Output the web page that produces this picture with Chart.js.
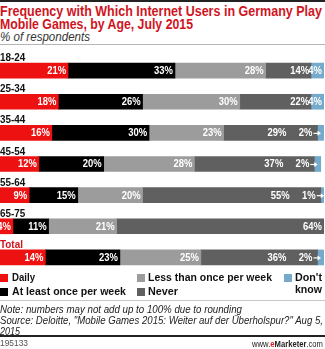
<!DOCTYPE html>
<html>
<head>
<meta charset="utf-8">
<script src="https://cdn.jsdelivr.net/npm/chart.js@4.4.1/dist/chart.umd.min.js"></script>
<style>
  html,body{margin:0;padding:0;background:#fff;}
  body{width:325px;height:349px;position:relative;overflow:hidden;font-family:"Liberation Sans",Arial,sans-serif;}
  .t{position:absolute;white-space:nowrap;transform-origin:0 0;line-height:1;}
  .rule{position:absolute;left:0;width:325px;}
  .sq{position:absolute;width:8px;height:8px;}
  #wrap{position:absolute;left:0;top:40px;width:325px;height:240px;}
</style>
</head>
<body>
<div class="rule" style="top:0;height:2px;background:#222;"></div>
<div class="t" data-w="322" style="left:0;top:4px;font-size:14px;font-weight:bold;color:#d0141e;">Frequency with Which Internet Users in Germany Play</div>
<div class="t" data-w="193" style="left:0;top:17px;font-size:14px;font-weight:bold;color:#d0141e;">Mobile Games, by Age, July 2015</div>
<div class="t" data-w="90" style="left:0;top:31px;font-size:12px;font-style:italic;color:#333;">% of respondents</div>
<div class="rule" style="top:44px;height:1px;background:#b5b5b5;"></div>

<div id="wrap"><canvas id="c"></canvas></div>

<div class="sq" style="left:0;top:274px;background:#ee1111;"></div>
<div class="t" data-w="23" style="left:12px;top:272px;font-size:11px;font-weight:bold;color:#111;">Daily</div>
<div class="sq" style="left:0;top:288px;background:#000;"></div>
<div class="t" data-w="114" style="left:12px;top:286px;font-size:11px;font-weight:bold;color:#111;">At least once per week</div>
<div class="sq" style="left:137px;top:274px;background:#9c9c9c;"></div>
<div class="t" data-w="124" style="left:148px;top:272px;font-size:11px;font-weight:bold;color:#111;">Less than once per week</div>
<div class="sq" style="left:137px;top:288px;background:#606060;"></div>
<div class="t" data-w="30" style="left:148px;top:286px;font-size:11px;font-weight:bold;color:#111;">Never</div>
<div class="sq" style="left:284px;top:274px;background:#74aacb;"></div>
<div class="t" data-w="27" style="left:295px;top:272px;font-size:11px;font-weight:bold;color:#111;">Don't</div>
<div class="t" data-w="27" style="left:295px;top:284px;font-size:11px;font-weight:bold;color:#111;">know</div>

<div class="rule" style="top:300px;height:1px;background:#c8c8c8;"></div>
<div class="t" data-w="242" style="left:0;top:304px;font-size:11px;font-style:italic;color:#222;">Note: numbers may not add up to 100% due to rounding</div>
<div class="t" data-w="323" style="left:0;top:315px;font-size:11px;font-style:italic;color:#222;">Source: Deloitte, "Mobile Games 2015: Weiter auf der Überholspur?" Aug 5,</div>
<div class="t" data-w="20" style="left:0;top:326px;font-size:11px;font-style:italic;color:#222;">2015</div>
<div class="rule" style="top:335px;height:2px;background:#222;"></div>
<div class="t" data-w="28" style="left:0;top:339px;font-size:9px;color:#555;">195133</div>
<div class="t" data-w="71" style="left:252px;top:339px;font-size:9.5px;color:#222;">www.<b style="color:#e01b22;">e</b><b>Marketer</b>.com</div>

<script>
// ---- data ----
const categories = ["18-24", "25-34", "35-44", "45-54", "55-64", "65-75", "Total"];
const daily          = [21, 18, 16, 12, 9, 4, 14];
const atLeastWeekly  = [33, 26, 30, 20, 15, 11, 23];
const lessThanWeekly = [28, 30, 23, 28, 20, 21, 25];
const never          = [14, 22, 29, 37, 55, 64, 36];
const dontKnow       = [4, 4, 2, 2, 1, 0, 2];
const seriesNames = ["Daily", "At least once per week", "Less than once per week", "Never", "Don't know"];
const seriesColors = ["#ee1111", "#000000", "#9c9c9c", "#606060", "#74aacb"];

// fit text widths
document.querySelectorAll('.t[data-w]').forEach(el => {
  const w = el.getBoundingClientRect().width;
  const target = parseFloat(el.dataset.w);
  if (w > 0) el.style.transform = 'scaleX(' + (target / w) + ')';
});

const FONT = '"Liberation Sans", Arial, sans-serif';

const labelPlugin = {
  id: 'labels',
  afterDatasetsDraw(chart) {
    const ctx = chart.ctx;
    const n = chart.data.datasets.length;
    ctx.save();
    // value labels
    for (let j = 0; j < categories.length; j++) {
      for (let i = 0; i < n; i++) {
        const v = chart.data.datasets[i].data[j];
        if (!v) continue;
        const el = chart.getDatasetMeta(i).data[j];
        const start = Math.min(el.x, el.base), end = Math.max(el.x, el.base);
        const nextV = i + 1 < n ? chart.data.datasets[i + 1].data[j] : 0;
        let right;
        let arrow = false;
        if (v < 3) {
          right = start - 5;
          arrow = true;
        } else if (nextV > 0 && nextV < 3) {
          right = end - 31;
        } else {
          right = end - 2;
        }
        ctx.save();
        ctx.translate(right, el.y + 0.5);
        ctx.scale(0.9, 1);
        ctx.font = 'bold 10.5px ' + FONT;
        ctx.fillStyle = '#ffffff';
        ctx.textAlign = 'right';
        ctx.textBaseline = 'middle';
        ctx.fillText(v + '%', 0, 0);
        ctx.restore();
        if (arrow) {
          ctx.strokeStyle = '#ffffff';
          ctx.fillStyle = '#ffffff';
          ctx.lineWidth = 1.2;
          ctx.beginPath();
          ctx.moveTo(start - 4, el.y + 0.5);
          ctx.lineTo(start + 1, el.y + 0.5);
          ctx.stroke();
          ctx.beginPath();
          ctx.moveTo(start + 3.5, el.y + 0.5);
          ctx.lineTo(start, el.y - 2);
          ctx.lineTo(start, el.y + 3);
          ctx.closePath();
          ctx.fill();
        }
      }
    }
    // category labels above bars
    const meta0 = chart.getDatasetMeta(0);
    for (let j = 0; j < categories.length; j++) {
      const el = meta0.data[j];
      const top = el.y - el.height / 2;
      ctx.save();
      ctx.translate(0, top - 2);
      ctx.scale(0.9, 1);
      ctx.font = 'bold 11px ' + FONT;
      ctx.fillStyle = categories[j] === 'Total' ? '#d0141e' : '#111111';
      ctx.textAlign = 'left';
      ctx.textBaseline = 'alphabetic';
      ctx.fillText(categories[j], 0, 0);
      ctx.restore();
    }
    ctx.restore();
  }
};

const values = [daily, atLeastWeekly, lessThanWeekly, never, dontKnow];
new Chart(document.getElementById('c'), {
  type: 'bar',
  data: {
    labels: categories,
    datasets: values.map((d, i) => ({
      label: seriesNames[i],
      data: d,
      backgroundColor: seriesColors[i],
      borderWidth: 0,
      barThickness: 15
    }))
  },
  options: {
    indexAxis: 'y',
    responsive: true,
    maintainAspectRatio: false,
    animation: false,
    layout: { padding: { top: 15, bottom: 7, left: 0, right: 1 } },
    plugins: { legend: { display: false }, tooltip: { enabled: false }, title: { display: false } },
    scales: {
      x: { stacked: true, min: 0, max: 100, display: false },
      y: { stacked: true, display: false }
    }
  },
  plugins: [labelPlugin]
});
</script>
</body>
</html>
